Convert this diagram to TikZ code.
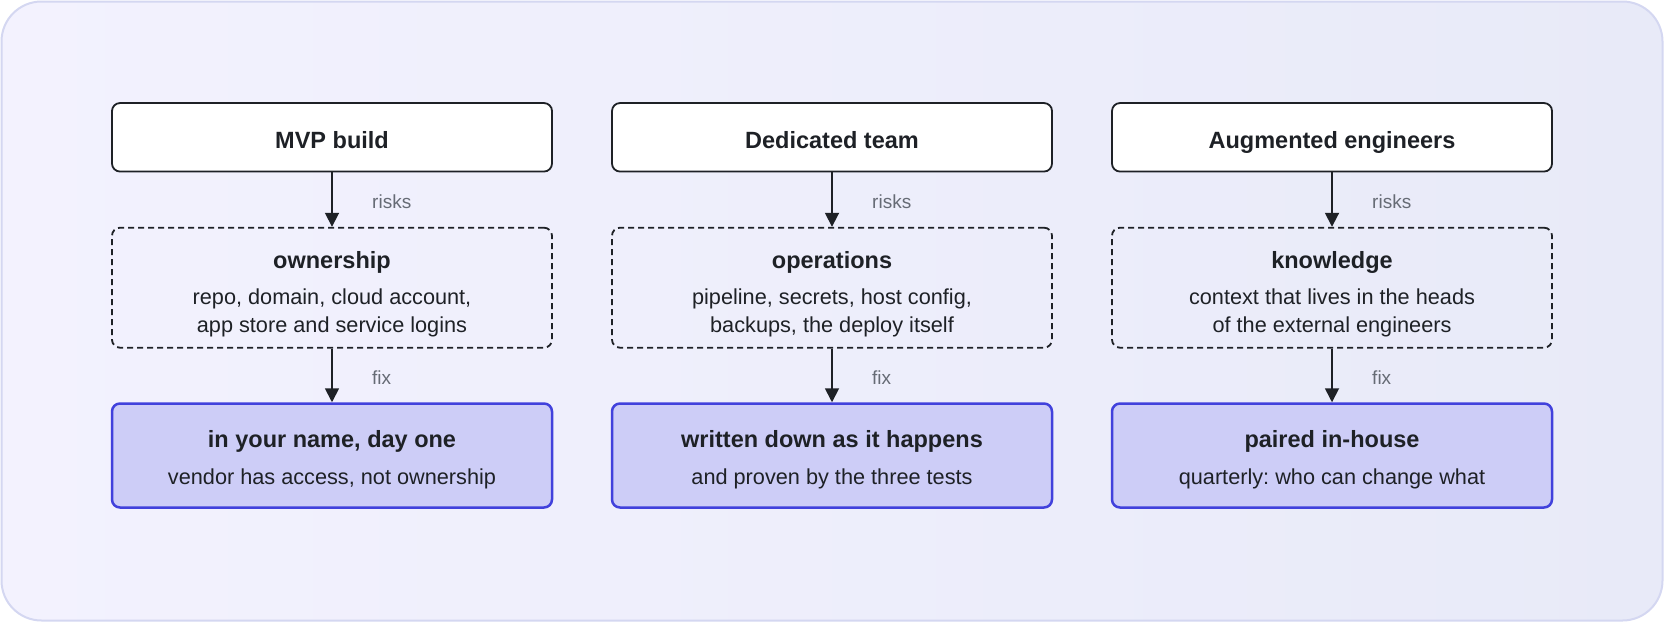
\documentclass[tikz,border=0pt]{standalone}
\usepackage{fontspec}
\setmainfont{Liberation Sans}
\usetikzlibrary{arrows.meta}
\frenchspacing
\definecolor{bgA}{HTML}{F3F2FE}
\definecolor{bgB}{HTML}{E8EAF8}
\definecolor{bgline}{HTML}{D4D7F1}
\definecolor{ink}{HTML}{1E2126}
\definecolor{muted}{HTML}{666B75}
\definecolor{fixfill}{HTML}{CDCDF7}
\definecolor{fixline}{HTML}{4141DC}
\begin{document}
\begin{tikzpicture}[x=1pt,y=-1pt,
 box/.style={draw=ink, line width=1.8pt, rounded corners=8pt, minimum width=440pt, inner sep=0pt},
 topbox/.style={box, fill=white, minimum height=68.5pt},
 riskbox/.style={box, dash pattern=on 6pt off 4pt, minimum height=120pt},
 fixbox/.style={box, draw=fixline, line width=2.5pt, fill=fixfill, minimum height=104pt},
 ttl/.style={font=\fontsize{23.5}{28}\selectfont\bfseries, text=ink, anchor=base, inner sep=0pt},
 body/.style={font=\fontsize{21.7}{27.8}\selectfont, text=ink, anchor=base, inner sep=0pt, align=center},
 lbl/.style={font=\fontsize{19}{23}\selectfont, text=muted, anchor=base west, inner sep=0pt},
 conn/.style={draw=ink, line width=1.8pt, -{Triangle[width=14pt,length=14pt]}}
]
\useasboundingbox (0,0) rectangle (1664,624);
\path[draw=bgline, line width=2pt, left color=bgA, right color=bgB, rounded corners=40pt]
  (1.5,1.5) rectangle (1662.5,620.5);

% column 1
\node[topbox] (a1) at (332,137.3) {};
\node[riskbox] (b1) at (332,287.7) {};
\node[fixbox] (c1) at (332,455.5) {};
\node[ttl] (a1t) at (332,148.3) {MVP build};
\node[ttl] (b1t) at (332,268.3) {ownership};
\node[body] (b1x) at (332,332) {repo, domain, cloud account,\\app store and service logins};
\node[ttl] (c1t) at (332,447.3) {in your name, day one};
\node[body] (c1x) at (332,484) {vendor has access, not ownership};
\draw[conn] (a1) -- (b1);
\draw[conn] (b1) -- (c1);
\node[lbl] (r1) at (372,208.3) {risks};
\node[lbl] (f1) at (372,384) {fix};

% column 2
\node[topbox] (a2) at (832,137.3) {};
\node[riskbox] (b2) at (832,287.7) {};
\node[fixbox] (c2) at (832,455.5) {};
\node[ttl] (a2t) at (832,148.3) {Dedicated team};
\node[ttl] (b2t) at (832,268.3) {operations};
\node[body] (b2x) at (832,332) {pipeline, secrets, host config,\\backups, the deploy itself};
\node[ttl] (c2t) at (832,447.3) {written down as it happens};
\node[body] (c2x) at (832,484) {and proven by the three tests};
\draw[conn] (a2) -- (b2);
\draw[conn] (b2) -- (c2);
\node[lbl] (r2) at (872,208.3) {risks};
\node[lbl] (f2) at (872,384) {fix};

% column 3
\node[topbox] (a3) at (1332,137.3) {};
\node[riskbox] (b3) at (1332,287.7) {};
\node[fixbox] (c3) at (1332,455.5) {};
\node[ttl] (a3t) at (1332,148.3) {Augmented engineers};
\node[ttl] (b3t) at (1332,268.3) {knowledge};
\node[body] (b3x) at (1332,332) {context that lives in the heads\\of the external engineers};
\node[ttl] (c3t) at (1332,447.3) {paired in-house};
\node[body] (c3x) at (1332,484) {quarterly: who can change what};
\draw[conn] (a3) -- (b3);
\draw[conn] (b3) -- (c3);
\node[lbl] (r3) at (1372,208.3) {risks};
\node[lbl] (f3) at (1372,384) {fix};
\end{tikzpicture}
\end{document}
